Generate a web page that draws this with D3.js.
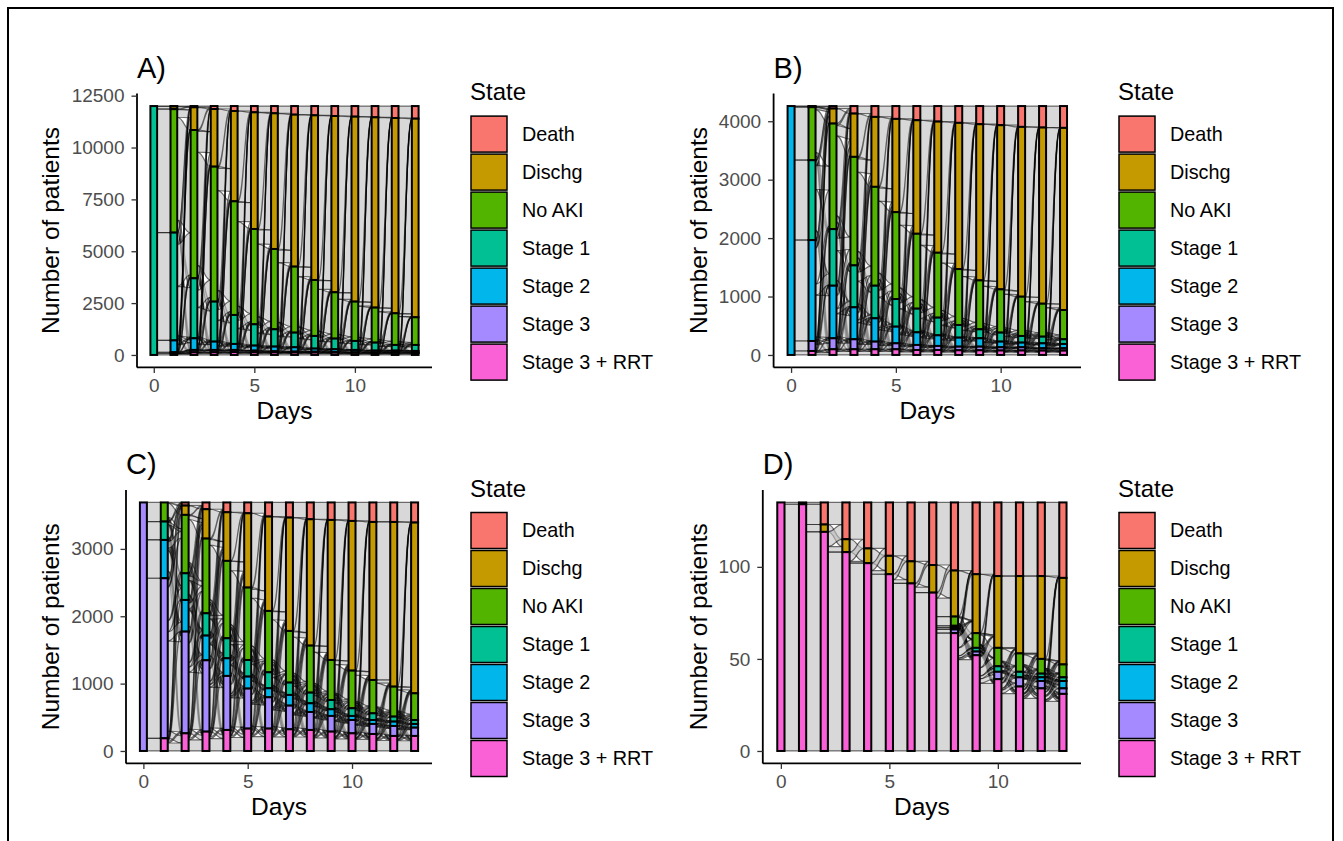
<!DOCTYPE html>
<html><head><meta charset="utf-8">
<script src="https://cdn.jsdelivr.net/npm/d3@7"></script>
<style>
body{margin:0;background:#fff}
svg{display:block}
text{font-family:"Liberation Sans",Arial,sans-serif}
</style>
</head><body>
<svg id="chart" width="1343" height="841"></svg>
<script>
// ---------- data ----------
const days = [0,1,2,3,4,5,6,7,8,9,10,11,12,13];
const states = ["Death","Dischg","No AKI","Stage 1","Stage 2","Stage 3","Stage 3 + RRT"];
const stateColors = ["#F8766D","#C49A00","#53B400","#00C094","#00B6EB","#A58AFF","#FB61D7"];
const xTicks = [0,5,10];

// Panel A (start in Stage 1)
const aDeath  = [0,20,60,143,239,303,351,416,448,480,512,544,576,609];
const aDischg = [0,130,1095,2779,4354,5624,6540,7326,7937,8499,8917,9174,9416,9575];
const aNoAKI  = [0,5953,7150,6507,5479,4595,3872,3182,2699,2234,1896,1688,1526,1334];
const aStage1 = [12000,5197,2892,1928,1398,1028,835,706,611,514,434,385,273,289];
const aStage2 = [0,570,562,402,289,241,225,209,150,130,115,100,90,85];
const aStage3 = [0,50,112,110,100,80,50,40,35,30,25,20,20,20];
const aRRT    = [0,80,129,131,141,129,127,121,120,113,101,89,99,88];
const aTicks  = [0,2500,5000,7500,10000,12500];

// Panel B (start in Stage 2)
const bDeath  = [0,5,43,129,186,220,243,266,288,311,328,357,368,374];
const bDischg = [0,15,257,741,1197,1596,1943,2245,2502,2673,2809,2906,3015,3117];
const bNoAKI  = [0,907,1806,1857,1692,1487,1282,1111,957,837,741,672,564,501];
const bStage1 = [0,1367,969,718,558,473,405,302,217,154,154,114,114,80];
const bStage2 = [4260,1727,900,547,399,285,216,182,154,143,97,80,85,74];
const bStage3 = [0,171,188,171,131,102,86,69,62,62,55,55,40,40];
const bRRT    = [0,68,97,97,97,97,85,85,80,80,76,76,74,74];
const bTicks  = [0,1000,2000,3000,4000];

// Panel C (start in Stage 3)
const cDeath  = [0,0,47,101,146,161,210,225,250,260,275,290,290,299];
const cDischg = [0,0,138,436,722,1103,1401,1683,1876,2079,2222,2346,2445,2535];
const cNoAKI  = [0,284,867,1109,1149,1075,911,767,698,594,559,495,445,396];
const cStage1 = [0,273,396,331,297,247,237,183,158,138,114,99,74,59];
const cStage2 = [0,569,470,367,262,178,134,159,129,99,60,59,65,55];
const cStage3 = [3690,2376,1510,1059,802,594,465,351,267,233,198,149,148,123];
const cRRT    = [0,188,262,287,312,332,332,322,312,287,262,252,223,223];
const cTicks  = [0,1000,2000,3000];

// Panel D (start in Stage 3 + RRT)
const dDeath  = [0,1,12,20,25,29,32,34,37,39,40,40,40,41];
const dDischg = [0,0,4,7,8,10,12,15,25,32,39,42,45,47];
const dNoAKI  = [0,0,0,0,0,0,0,0,5,8,10,10,8,7];
const dStage1 = [0,0,0,0,0,0,0,0,1,2,3,3,2,2];
const dStage2 = [0,0,0,0,0,0,0,0,1,0,0,0,2,4];
const dStage3 = [0,0,0,0,0,0,0,0,2,2,4,5,4,3];
const dRRT    = [135,134,119,108,102,96,91,86,64,52,39,35,34,31];
const dTicks  = [0,50,100];

// ---------- layout ----------
const panels = [
  {title:"A)", series:[aDeath,aDischg,aNoAKI,aStage1,aStage2,aStage3,aRRT], ticks:aTicks,
   box:{l:137,r:432,t:93.6,b:367.4}, yTitleX:59, legendX:471},
  {title:"B)", series:[bDeath,bDischg,bNoAKI,bStage1,bStage2,bStage3,bRRT], ticks:bTicks,
   box:{l:773.6,r:1081,t:93.6,b:367.4}, yTitleX:707, legendX:1119},
  {title:"C)", series:[cDeath,cDischg,cNoAKI,cStage1,cStage2,cStage3,cRRT], ticks:cTicks,
   box:{l:126,r:432,t:490,b:763.4}, yTitleX:59, legendX:471},
  {title:"D)", series:[dDeath,dDischg,dNoAKI,dStage1,dStage2,dStage3,dRRT], ticks:dTicks,
   box:{l:762.8,r:1081,t:490,b:763.4}, yTitleX:707, legendX:1119}
];

const svg = d3.select("#chart");
svg.append("rect").attr("width",1343).attr("height",841).attr("fill","#fff");
// outer frame
svg.append("rect").attr("x",8).attr("y",8).attr("width",1325).attr("height",845)
  .attr("fill","none").attr("stroke","#000").attr("stroke-width",2);

const barHalf = 1/6;
const KEEP = 0.6;

function flowMatrix(a, b){
  const n = a.length;
  const f = a.map(()=>new Array(n).fill(0));
  const ra = a.slice(), rb = b.slice();
  for (let s=0;s<n;s++){
    const k = (s<2) ? 1 : KEEP;
    const d = Math.min(a[s], b[s]) * k;
    f[s][s] = d; ra[s]-=d; rb[s]-=d;
  }
  const tot = d3.sum(rb.map(v=>Math.max(0,v)));
  for (let s=0;s<n;s++){
    if (ra[s] <= 1e-9) continue;
    for (let t=0;t<n;t++){
      if (rb[t] <= 1e-9 || tot<=0) continue;
      f[s][t] += ra[s]*rb[t]/tot;
    }
  }
  return f;
}

panels.forEach(p=>{
  const n = states.length;
  const total = d3.sum(p.series, s=>s[0]);
  const x = d3.scaleLinear().domain([-barHalf - 0.05*(13+2*barHalf), 13+barHalf + 0.05*(13+2*barHalf)])
    .range([p.box.l, p.box.r]);
  const y = d3.scaleLinear().domain([-0.05*total, 1.05*total]).range([p.box.b, p.box.t]);
  const g = svg.append("g");

  const tops = days.map(i=>{
    let cum = d3.sum(p.series, s=>s[i]);
    return p.series.map(s=>{ const t = cum; cum -= s[i]; return t; });
  });

  // flows
  const fg = g.append("g");
  for (let i=0;i<days.length-1;i++){
    const a = p.series.map(s=>s[i]);
    const b = p.series.map(s=>s[i+1]);
    const f = flowMatrix(a,b);
    const outSum = a.map((_,s)=>d3.sum(f[s]));
    const inSum = b.map((_,t)=>d3.sum(f, r=>r[t]));
    const x0 = x(days[i]+barHalf), x1 = x(days[i+1]-barHalf), xm = (x0+x1)/2;
    const outTop = {}, inTop = {}, ribbons = [];
    for (let s=0;s<n;s++){
      let c = tops[i][s];
      const sc = outSum[s]>0 ? a[s]/outSum[s] : 0;
      for (let t=0;t<n;t++){ if (f[s][t]>1e-9){ ribbons.push({s,t}); outTop[s+"_"+t]=[c, c - f[s][t]*sc]; c -= f[s][t]*sc; } }
    }
    for (let t=0;t<n;t++){
      let c = tops[i+1][t];
      const sc = inSum[t]>0 ? b[t]/inSum[t] : 0;
      for (let s=0;s<n;s++){ if (f[s][t]>1e-9){ inTop[s+"_"+t]=[c, c - f[s][t]*sc]; c -= f[s][t]*sc; } }
    }
    ribbons.forEach(r=>{
      const o = outTop[r.s+"_"+r.t], q = inTop[r.s+"_"+r.t];
      const yo1=y(o[0]), yo2=y(o[1]), yi1=y(q[0]), yi2=y(q[1]);
      const path = d3.path();
      path.moveTo(x0, yo1);
      path.bezierCurveTo(xm, yo1, xm, yi1, x1, yi1);
      path.lineTo(x1, yi2);
      path.bezierCurveTo(xm, yi2, xm, yo2, x0, yo2);
      path.closePath();
      fg.append("path").attr("d", path.toString())
        .attr("fill","#bebebe").attr("fill-opacity",0.6)
        .attr("stroke","#000").attr("stroke-opacity",0.55).attr("stroke-width",1.2);
    });
  }

  // strata
  const sg = g.append("g");
  days.forEach(i=>{
    p.series.forEach((s,k)=>{
      if (s[i] <= 0) return;
      const t = tops[i][k];
      sg.append("rect")
        .attr("x", x(days[i]-barHalf)).attr("width", x(days[i]+barHalf)-x(days[i]-barHalf))
        .attr("y", y(t)).attr("height", y(t - s[i]) - y(t))
        .attr("fill", stateColors[k]).attr("stroke","#000").attr("stroke-width",2);
    });
  });

  // axes
  const axY = g.append("g").attr("transform",`translate(${p.box.l},0)`)
    .call(d3.axisLeft(y).tickValues(p.ticks).tickFormat(d3.format("d")).tickSize(5.5).tickPadding(7));
  const axX = g.append("g").attr("transform",`translate(0,${p.box.b})`)
    .call(d3.axisBottom(x).tickValues(xTicks).tickFormat(d3.format("d")).tickSize(5.5).tickPadding(6));
  [axX, axY].forEach(ax=>{
    ax.select(".domain").attr("stroke","#000").attr("stroke-width",1.8);
    ax.selectAll(".tick line").attr("stroke","#333").attr("stroke-width",1.3);
    ax.selectAll(".tick text").attr("fill","#4d4d4d").style("font-size","19px")
      .style("font-family",'"Liberation Sans",Arial,sans-serif');
  });
  axY.select(".domain").attr("d", `M0,${p.box.t}V${p.box.b}`);
  axX.select(".domain").attr("d", `M${p.box.l},0H${p.box.r}`);

  // titles
  g.append("text").attr("x", p.box.l).attr("y", p.box.t - 16)
    .style("font-size","29px").attr("fill","#000").text(p.title);
  g.append("text").attr("x", (p.box.l+p.box.r)/2).attr("y", p.box.b + 51.5)
    .attr("text-anchor","middle").style("font-size","24.5px").attr("fill","#000").text("Days");
  g.append("text").attr("transform", `translate(${p.yTitleX},${(p.box.t+p.box.b)/2}) rotate(-90)`)
    .attr("text-anchor","middle").style("font-size","24.5px").attr("fill","#000").text("Number of patients");

  // legend
  const lg = g.append("g");
  lg.append("text").attr("x", p.legendX - 1).attr("y", p.box.t + 6.5)
    .style("font-size","24px").attr("fill","#000").text("State");
  states.forEach((st,k)=>{
    const ky = p.box.t + 22.5 + 38*k;
    lg.append("rect").attr("x", p.legendX).attr("y", ky).attr("width",36).attr("height",36)
      .attr("fill", stateColors[k]).attr("stroke","#000").attr("stroke-width",1.5);
    lg.append("text").attr("x", p.legendX + 51).attr("y", ky + 18 + 6.5)
      .style("font-size","19.8px").attr("fill","#000").text(st);
  });
});
</script>
</body></html>
